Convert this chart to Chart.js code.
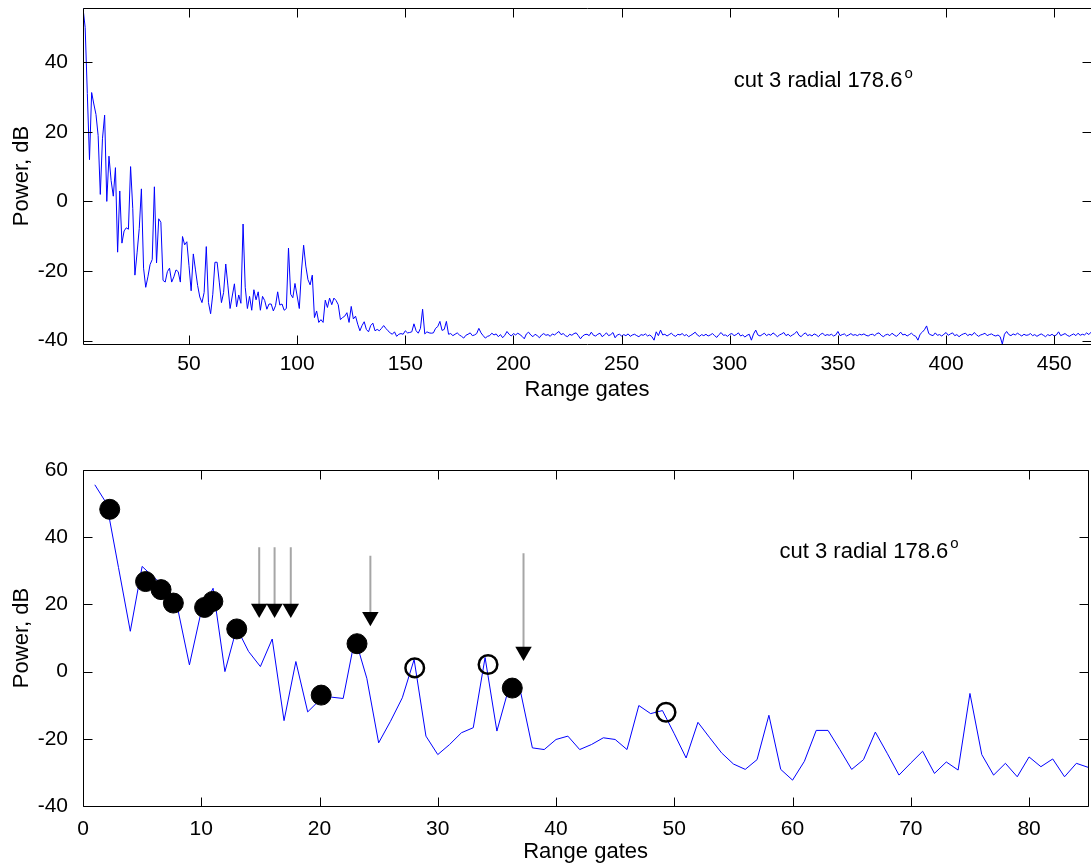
<!DOCTYPE html>
<html>
<head>
<meta charset="utf-8">
<title>cut 3 radial 178.6</title>
<script src="https://cdn.jsdelivr.net/npm/chart.js@4.4.1/dist/chart.umd.min.js"></script>
<style>
  html, body { margin: 0; padding: 0; background: #fff; overflow: hidden; }
  #page { position: relative; width: 1091px; height: 867px; overflow: hidden; }
  canvas { position: absolute; left: 0; }
  #topChart { top: 0; }
  #bottomChart { top: 430px; }
</style>
</head>
<body>
<div id="page">
  <canvas id="topChart" width="1100" height="420"></canvas>
  <canvas id="bottomChart" width="1100" height="437"></canvas>
</div>
<script>
// ─── DATA ───
// power per range gate, gates 1..85 (also the zoomed lower panel)
const powerNear = [
  55.6, 50, 31, 12, 31.3, 28, 25, 18.9, 2, 18,
  24.8, 0, 13, 6, 1.5, 9.7, -14.6, 3, -12, -8.5,
  -7.6, -8, 10, -2, -21.2, -14.8, -7.8, 3.6, -19.2, -24.7,
  -21.7, -18.2, -16.7, 4.2, -17.7, -5, -6, -22.7, -23.2, -20.2,
  -19.2, -23.2, -21.7, -19.7, -20.2, -23.2, -10.1, -12.5, -11.6, -18.5,
  -25.7, -15.1, -19.7, -24.2, -27.5, -29.1, -26.2, -13, -29.1, -32.3,
  -26.7, -17.5, -17.5, -23.2, -29.1, -26.2, -18, -24.3, -30.8, -27.2,
  -23.7, -30.3, -26.9, -29.3, -6.5, -24.7, -30.8, -27.3, -31.3, -25.4,
  -28.3, -26, -31.3, -27.3, -28.5
];
// gates 86..467
const powerFar = [
  -31, -29.5, -29.5, -31.5, -30, -26, -29.8, -29.5, -31.3, -30.8,
  -13.4, -26.7, -27.7, -23.6, -27.2, -30.8, -20, -12.6, -18.6, -22.5,
  -24, -21.2, -33.4, -31.5, -34.8, -34, -34.8, -28.4, -30.5, -27.8,
  -29.7, -27.8, -28.5, -29.7, -34, -33.4, -33, -32, -34.8, -30.2,
  -33.8, -33, -35.3, -37.2, -35.7, -34.6, -36.8, -37.5, -35.7, -35,
  -37.2, -36.8, -37.2, -36.5, -35.7, -36.5, -37.2, -37.8, -38.2, -37.5,
  -38.8, -38.2, -38, -38.2, -37.2, -37.8, -37.7, -37.5, -35.2, -37.2,
  -37.9, -36.5, -31, -38.1, -37.5, -37.8, -37.9, -37.8, -36.5, -36,
  -34.5, -37.1, -36.8, -34.5, -38.2, -38, -38.6, -38.2, -37.8, -38.4,
  -38.8, -39.3, -38.5, -38.2, -37.8, -38.6, -38.4, -38.0, -36.5, -37.8,
  -38.6, -39.3, -38.8,
  -38.6, -37.9, -38.4, -38.1, -38.9, -38.3, -39.2, -38.5, -37.4, -38.2,
  -38.7, -38.0, -38.4, -37.9, -38.3, -38.8, -39.5, -38.1, -37.6, -38.4,
  -38.9, -38.2, -38.6, -39.2, -38.4, -38.0, -38.5, -38.3, -38.8, -38.1,
  -38.4, -37.9, -37.4, -38.3, -38.0, -38.6, -38.9, -38.2, -38.5, -38.0,
  -37.8, -38.6, -39.5, -38.7, -38.3, -38.2, -38.6, -37.6, -38.5, -38.7,
  -38.2, -37.9, -38.9, -38.4, -37.8, -38.6, -38.3, -37.7, -39.2, -38.4,
  -38.2, -38.7, -38.3, -38.6, -38.1, -38.8, -38.4, -38.2, -38.6, -38.9,
  -38.3, -38.5, -38.1, -38.7, -38.4, -38.9, -39.9, -37.5, -38.6, -37.0,
  -38.4, -38.2, -38.7, -38.3, -37.9, -38.5, -38.8, -38.2, -38.4, -38.0,
  -38.6, -38.3, -38.9, -38.5, -38.1, -37.6, -38.4, -38.8, -38.3, -38.6,
  -38.2, -38.7, -38.4, -38.0, -38.6, -39.1, -38.3, -37.7, -38.5, -38.4,
  -38.8, -38.2, -38.0, -38.6, -38.3, -37.8, -38.7, -38.4, -39.0, -38.5,
  -38.2, -39.9, -38.1, -37.0, -38.4, -38.7, -38.3, -37.9, -38.6, -38.2,
  -38.5, -37.8, -38.3, -38.9, -38.4, -38.1, -37.7, -38.6, -38.2, -38.8,
  -38.4, -38.0, -37.4, -38.5, -38.9, -38.2, -37.8, -38.6, -38.3, -38.7,
  -38.1, -38.4, -38.9, -38.2, -37.9, -38.6, -38.3, -38.5, -38.2, -38.7,
  -38.4, -37.4, -38.6, -38.3, -38.1, -38.7, -38.4, -38.0, -38.5, -38.3,
  -38.6, -38.2, -38.4, -38.1, -38.5, -38.7, -38.3, -38.2, -38.6, -38.0,
  -37.8, -38.5, -38.9, -38.4, -38.2, -38.6, -37.9, -38.4, -38.8, -38.3,
  -37.6, -38.4, -38.2, -38.7, -38.3, -37.9, -38.5, -38.8, -39.9, -38.2,
  -37.6, -36.9, -35.8, -38.0, -38.4, -38.6, -37.8, -38.5, -38.3, -38.7,
  -38.2, -37.7, -38.5, -38.1, -37.8, -38.6, -38.3, -38.9, -38.4, -38.1,
  -37.9, -38.6, -38.2, -38.5, -37.7, -38.3, -38.8, -38.4, -38.2, -37.9,
  -38.6, -38.3, -38.1, -38.5, -38.7, -38.4, -38.9, -41.0, -38.2, -37.4,
  -38.3, -38.6, -38.1, -38.4, -37.9, -38.3, -38.7, -38.2, -38.5, -38.4,
  -38.0, -38.6, -38.3, -38.8, -38.4, -38.1, -38.5, -38.9, -38.3, -38.6,
  -38.2, -38.7, -38.4, -37.5, -38.6, -38.3, -38.0, -38.5, -38.8, -38.4,
  -38.1, -38.6, -37.9, -38.5, -38.2, -38.4, -37.8, -38.3, -37.6
];
const power = powerNear.concat(powerFar);

// picked echoes (filled), rejected ones (open), and arrows
const solidDotX = [2.26, 5.29, 6.6, 7.64, 10.28, 10.98, 13.0, 20.14, 23.17, 36.3];
const solidDotY = [48.3, 26.8, 24.4, 20.4, 19.1, 20.9, 12.7, -7.0, 8.3, -4.9];
const openDotX = [28.05, 34.25, 49.3];
const openDotY = [1.1, 2.1, -12.1];
const arrowX = [14.9, 16.2, 17.57, 24.3, 37.25];
const arrowTop = [37, 37, 37, 34.5, 35.2];
const arrowHead = [18.75, 18.75, 18.75, 16.3, 6.0];

// tick labels
const topXTicks = [50, 100, 150, 200, 250, 300, 350, 400, 450];
const topYTicks = [-40, -20, 0, 20, 40];
const botXTicks = [0, 10, 20, 30, 40, 50, 60, 70, 80];
const botYTicks = [-40, -20, 0, 20, 40, 60];

const LABEL = 'cut 3 radial 178.6';
const SUP = 'o';

// ─── STYLE ───
const FONT = '"Liberation Sans", Arial, Helvetica, sans-serif';
const TICK_LEN = 9;

const toPts = (xs, ys) => xs.map((x, i) => ({ x: x, y: ys[i] }));
const gatePts = (vals) => vals.map((v, i) => ({ x: i + 1, y: v }));

// matlab style box with inward ticks on all four sides
const boxTicks = {
    id: 'boxTicks',
    afterDraw(chart) {
        const { ctx, chartArea: a, scales: { x, y } } = chart;
        const L = Math.round(a.left) + 0.5, R = Math.round(a.right) + 0.5;
        const T = Math.round(a.top) + 0.5, B = Math.round(a.bottom) + 0.5;
        ctx.save();
        ctx.strokeStyle = '#000';
        ctx.lineWidth = 1;
        ctx.beginPath();
        ctx.rect(L, T, R - L, B - T);
        x.ticks.forEach(t => {
            const px = Math.round(x.getPixelForValue(t.value)) + 0.5;
            ctx.moveTo(px, B); ctx.lineTo(px, B - TICK_LEN);
            ctx.moveTo(px, T); ctx.lineTo(px, T + TICK_LEN);
        });
        y.ticks.forEach(t => {
            const py = Math.round(y.getPixelForValue(t.value)) + 0.5;
            ctx.moveTo(L, py); ctx.lineTo(L + TICK_LEN, py);
            ctx.moveTo(R, py); ctx.lineTo(R - TICK_LEN, py);
        });
        ctx.stroke();
        ctx.restore();
    }
};

// "cut 3 radial 178.6°" text with superscript
const cutLabel = {
    id: 'cutLabel',
    afterDraw(chart, args, opts) {
        if (!opts || opts.x === undefined) return;
        const { ctx, scales: { x, y } } = chart;
        const px = x.getPixelForValue(opts.x);
        const py = y.getPixelForValue(opts.y);
        ctx.save();
        ctx.fillStyle = '#000';
        ctx.textBaseline = 'middle';
        ctx.textAlign = 'left';
        ctx.font = '22px ' + FONT;
        ctx.fillText(LABEL, px, py);
        const w = ctx.measureText(LABEL).width;
        ctx.font = '15px ' + FONT;
        ctx.fillText(SUP, px + w + 2, py - 8);
        ctx.restore();
    }
};

function axes(xr, yr, xTicks, yTicks, xHeight, xTickPad, xTitlePad) {
    return {
        x: {
            type: 'linear',
            min: xr[0], max: xr[1],
            grid: { display: false },
            border: { display: false },
            afterBuildTicks: s => { s.ticks = xTicks.map(v => ({ value: v })); },
            afterFit: s => {
                s.height = xHeight;
                s.paddingLeft = 0; s.paddingRight = 0;
            },
            ticks: {
                color: '#000', padding: xTickPad, maxRotation: 0, autoSkip: false,
                font: { family: FONT, size: 21 }
            },
            title: {
                display: true, text: 'Range gates', color: '#000',
                font: { family: FONT, size: 22 },
                padding: { top: 0, bottom: xTitlePad }
            }
        },
        y: {
            type: 'linear',
            min: yr[0], max: yr[1],
            grid: { display: false },
            border: { display: false },
            afterBuildTicks: s => { s.ticks = yTicks.map(v => ({ value: v })); },
            afterFit: s => {
                s.width = 83;
                s.paddingTop = 0; s.paddingBottom = 0;
            },
            ticks: {
                color: '#000', padding: 7, autoSkip: false,
                font: { family: FONT, size: 21 }
            },
            title: {
                display: true, text: 'Power, dB', color: '#000',
                font: { family: FONT, size: 22 },
                padding: { top: 9, bottom: 0 }
            }
        }
    };
}

const common = {
    responsive: false,
    animation: false,
    devicePixelRatio: 1,
    events: [],
    plugins: { legend: { display: false }, tooltip: { enabled: false } }
};

// ─── 1. FULL RADIAL ───
new Chart(document.getElementById('topChart'), {
    type: 'scatter',
    data: {
        datasets: [{
            data: gatePts(power),
            showLine: true,
            borderColor: '#0000ff',
            borderWidth: 1,
            pointRadius: 0,
            tension: 0
        }]
    },
    options: {
        ...common,
        layout: { padding: { top: 8, right: 9, bottom: 0, left: 0 } },
        scales: axes([1, 467], [-41, 55.6], topXTicks, topYTicks, 76, 0, 17),
        plugins: { ...common.plugins, cutLabel: { x: 301.8, y: 34.5 } }
    },
    plugins: [boxTicks, cutLabel]
});

// ─── 2. FIRST 85 GATES WITH PICKS ───
const stemPts = [];
arrowX.forEach((x, i) => {
    stemPts.push({ x: x, y: arrowTop[i] }, { x: x, y: arrowHead[i] }, { x: x, y: null });
});

new Chart(document.getElementById('bottomChart'), {
    type: 'scatter',
    data: {
        datasets: [
            {   // arrow heads
                data: toPts(arrowX, arrowHead),
                pointStyle: 'triangle',
                rotation: 180,
                pointRadius: 9.5,
                backgroundColor: '#000',
                borderColor: '#000',
                borderWidth: 0
            },
            {   // accepted echoes
                data: toPts(solidDotX, solidDotY),
                pointRadius: 10,
                backgroundColor: '#000',
                borderColor: '#000',
                borderWidth: 1
            },
            {   // rejected echoes
                data: toPts(openDotX, openDotY),
                pointRadius: 9.3,
                backgroundColor: 'rgba(0,0,0,0)',
                borderColor: '#000',
                borderWidth: 2.5
            },
            {   // arrow stems
                data: stemPts,
                showLine: true,
                spanGaps: false,
                borderColor: '#a6a6a6',
                borderWidth: 2,
                pointRadius: 0
            },
            {
                data: gatePts(powerNear),
                showLine: true,
                borderColor: '#0000ff',
                borderWidth: 1,
                pointRadius: 0,
                tension: 0
            }
        ]
    },
    options: {
        ...common,
        layout: { padding: { top: 40, right: 5, bottom: 0, left: 0 } },
        scales: axes([0, 85], [-40, 60], botXTicks, botYTicks, 61, 3, 2),
        plugins: { ...common.plugins, cutLabel: { x: 58.9, y: 35.75 } }
    },
    plugins: [boxTicks, cutLabel]
});
</script>
</body>
</html>
